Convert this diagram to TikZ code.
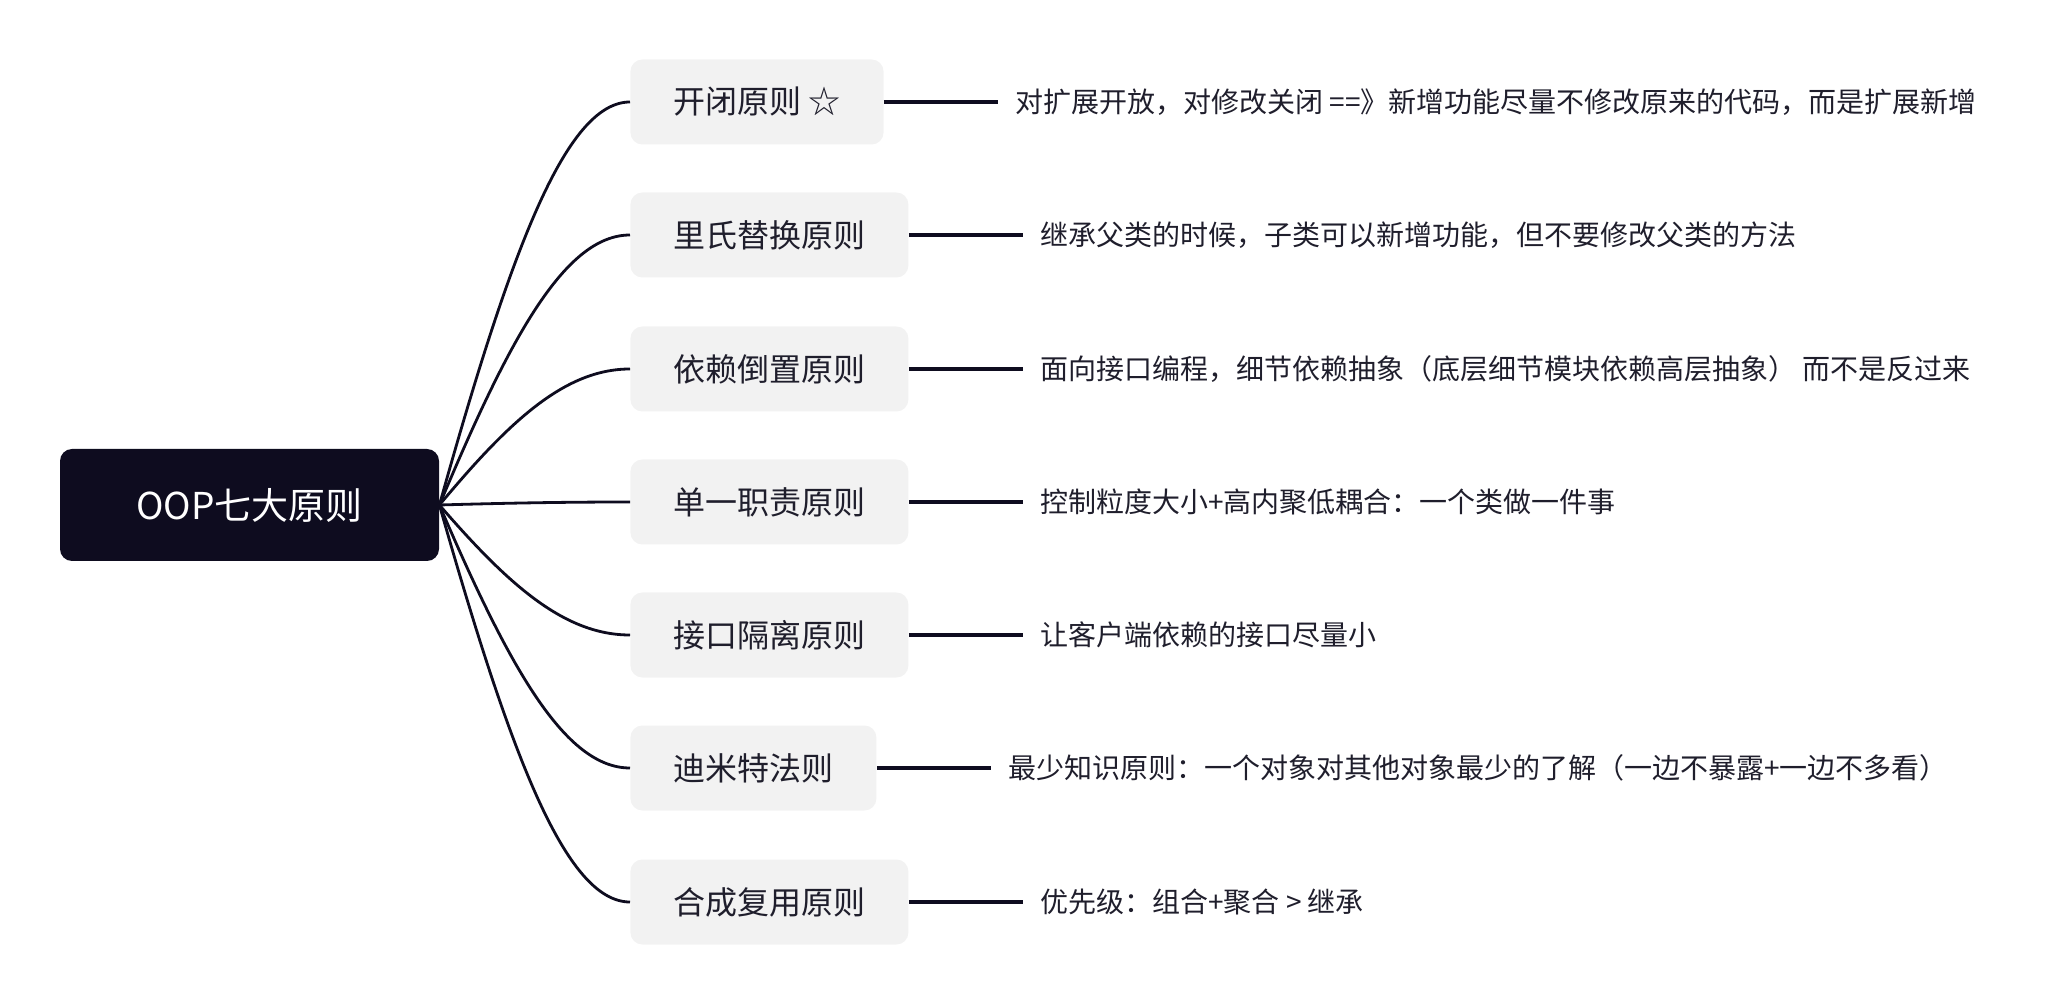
\documentclass[tikz,border=0pt]{standalone}
\usepackage{fontspec}
\setmainfont{Noto Sans CJK SC}
\usetikzlibrary{positioning}
\definecolor{inkdark}{HTML}{0E0C1F}
\definecolor{boxgray}{HTML}{F2F2F2}
\definecolor{txtdark}{HTML}{1F1E2C}

\begin{document}
\begin{tikzpicture}[x=0.5pt, y=-0.5pt,
    every node/.style={anchor=center},
    root/.style={fill=inkdark, text=white, rounded corners=6pt,
        minimum width=189.5pt, minimum height=56pt, font=\fontsize{18.5}{22}\selectfont},
    topic/.style={fill=boxgray, text=txtdark, rounded corners=6pt, anchor=west,
        inner xsep=21.5pt, minimum height=42.5pt, font=\fontsize{16}{19}\selectfont},
    note/.style={anchor=west, inner xsep=8.5pt, text=txtdark, font=\fontsize{14}{17}\selectfont},
    branch/.style={draw=inkdark, line width=1.4pt},
    stem/.style={draw=inkdark, line width=1.8pt}]
    \useasboundingbox (0,0) rectangle (2054,1004);

    % Centre
    \node[root] (oop) at (249.5,505) {OOP七大原则};

    % Principis
    \node[topic] (ocp) at (630,102) {开闭原则 ☆};
    \node[topic] (lsp) at (630,235) {里氏替换原则};
    \node[topic] (dip) at (630,369) {依赖倒置原则};
    \node[topic] (srp) at (630,502) {单一职责原则};
    \node[topic] (isp) at (630,635) {接口隔离原则};
    \node[topic] (lod) at (630,768) {迪米特法则};
    \node[topic] (crp) at (630,902) {合成复用原则};

    % Notes
    \node[note, right=57pt of ocp] (ocp-n) {对扩展开放，对修改关闭 ==》新增功能尽量不修改原来的代码，而是扩展新增};
    \node[note, right=57pt of lsp] (lsp-n) {继承父类的时候，子类可以新增功能，但不要修改父类的方法};
    \node[note, right=57pt of dip] (dip-n) {面向接口编程，细节依赖抽象（底层细节模块依赖高层抽象） 而不是反过来};
    \node[note, right=57pt of srp] (srp-n) {控制粒度大小+高内聚低耦合：一个类做一件事};
    \node[note, right=57pt of isp] (isp-n) {让客户端依赖的接口尽量小};
    \node[note, right=57pt of lod] (lod-n) {最少知识原则：一个对象对其他对象最少的了解（一边不暴露+一边不多看）};
    \node[note, right=57pt of crp] (crp-n) {优先级：组合+聚合 > 继承};

    % Branques
    \draw[branch] (oop.east) .. controls +(70,-250) and +(-65,0) .. (ocp.west);
    \draw[branch] (oop.east) .. controls +(70,-167) and +(-65,0) .. (lsp.west);
    \draw[branch] (oop.east) .. controls +(70,-84) and +(-65,0) .. (dip.west);
    \draw[branch] (oop.east) .. controls +(70,-2) and +(-65,0) .. (srp.west);
    \draw[branch] (oop.east) .. controls +(70,81) and +(-65,0) .. (isp.west);
    \draw[branch] (oop.east) .. controls +(70,163) and +(-65,0) .. (lod.west);
    \draw[branch] (oop.east) .. controls +(70,246) and +(-65,0) .. (crp.west);

    \draw[stem] (ocp) -- (ocp-n);
    \draw[stem] (lsp) -- (lsp-n);
    \draw[stem] (dip) -- (dip-n);
    \draw[stem] (srp) -- (srp-n);
    \draw[stem] (isp) -- (isp-n);
    \draw[stem] (lod) -- (lod-n);
    \draw[stem] (crp) -- (crp-n);
\end{tikzpicture}
\end{document}
